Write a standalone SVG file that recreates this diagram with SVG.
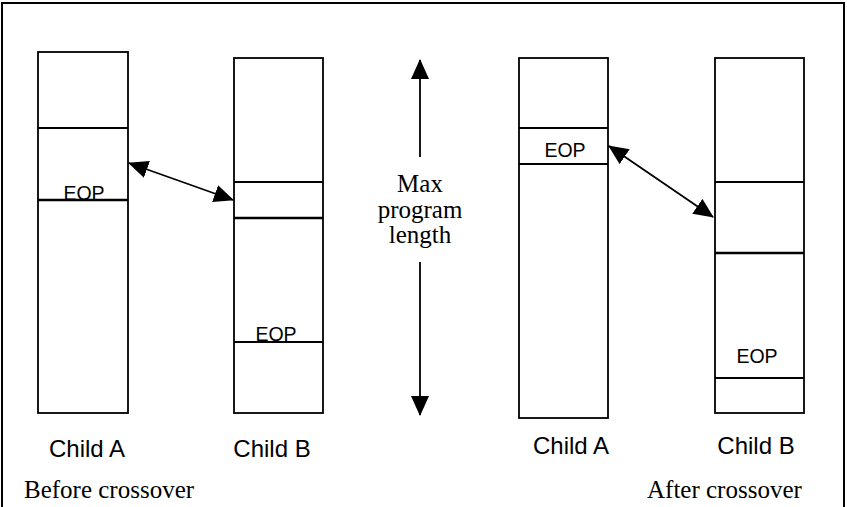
<svg xmlns="http://www.w3.org/2000/svg" width="847" height="507" viewBox="0 0 847 507">
<style>
.box{fill:none;stroke:#000;stroke-width:1.8}
.ln{stroke:#000;stroke-width:1.8}
.thk{stroke:#000;stroke-width:2.4}
.sans{font-family:"Liberation Sans",Arial,sans-serif;fill:#000}
.serif{font-family:"Liberation Serif","Times New Roman",serif;fill:#000;font-size:25px}
.eop{font-size:19.5px}
.lbl{font-size:24px}
.conn{stroke:#000;stroke-width:1.8;fill:none;marker-start:url(#ah);marker-end:url(#ah)}
.conn1{stroke:#000;stroke-width:1.8;fill:none;marker-end:url(#ah)}
</style>
<defs>
<marker id="ah" markerUnits="userSpaceOnUse" markerWidth="20" markerHeight="18" refX="19" refY="9" orient="auto-start-reverse" viewBox="0 0 20 18">
<path d="M0,0 L20,9 L0,18 z" fill="#000"/>
</marker>
</defs>
<rect x="2" y="3" width="842" height="520" fill="#fff" stroke="#000" stroke-width="2"/>

<g id="before-childA">
<rect class="box" x="38" y="52" width="90" height="361"/>
<line class="ln" x1="38" y1="128" x2="128" y2="128"/>
<line class="thk" x1="38" y1="200" x2="128" y2="200"/>
<text class="sans eop" x="84" y="200" text-anchor="middle">EOP</text>
<text class="sans lbl" x="87" y="457" text-anchor="middle">Child A</text>
</g>

<g id="before-childB">
<rect class="box" x="234" y="58" width="89" height="355"/>
<line class="ln" x1="234" y1="182" x2="323" y2="182"/>
<line class="thk" x1="234" y1="218" x2="323" y2="218"/>
<line class="ln" x1="234" y1="342" x2="323" y2="342"/>
<text class="sans eop" x="276" y="341" text-anchor="middle">EOP</text>
<text class="sans lbl" x="272" y="457" text-anchor="middle">Child B</text>
</g>

<g id="before-label">
<text class="serif" x="24" y="498">Before crossover</text>
</g>

<g id="max-length">
<text class="serif" x="420" y="192" text-anchor="middle">Max</text>
<text class="serif" x="420" y="218" text-anchor="middle">program</text>
<text class="serif" x="420" y="243" text-anchor="middle">length</text>
</g>

<g id="after-childA">
<rect class="box" x="519" y="58" width="89" height="360"/>
<line class="ln" x1="519" y1="128" x2="608" y2="128"/>
<line class="ln" x1="519" y1="164" x2="608" y2="164"/>
<text class="sans eop" x="565" y="157" text-anchor="middle">EOP</text>
<text class="sans lbl" x="571" y="454" text-anchor="middle">Child A</text>
</g>

<g id="after-childB">
<rect class="box" x="715" y="58" width="89" height="355"/>
<line class="ln" x1="715" y1="182" x2="804" y2="182"/>
<line class="thk" x1="715" y1="253" x2="804" y2="253"/>
<line class="ln" x1="715" y1="378" x2="804" y2="378"/>
<text class="sans eop" x="757" y="363" text-anchor="middle">EOP</text>
<text class="sans lbl" x="756" y="454" text-anchor="middle">Child B</text>
</g>

<g id="after-label">
<text class="serif" x="647" y="498">After crossover</text>
</g>

<g id="connectors">
<line class="conn" x1="129" y1="163" x2="233" y2="200"/>
<line class="conn" x1="609" y1="146" x2="713" y2="217"/>
<line class="conn1" x1="420" y1="157" x2="420" y2="60"/>
<line class="conn1" x1="420" y1="262" x2="420" y2="415"/>
</g>
</svg>
